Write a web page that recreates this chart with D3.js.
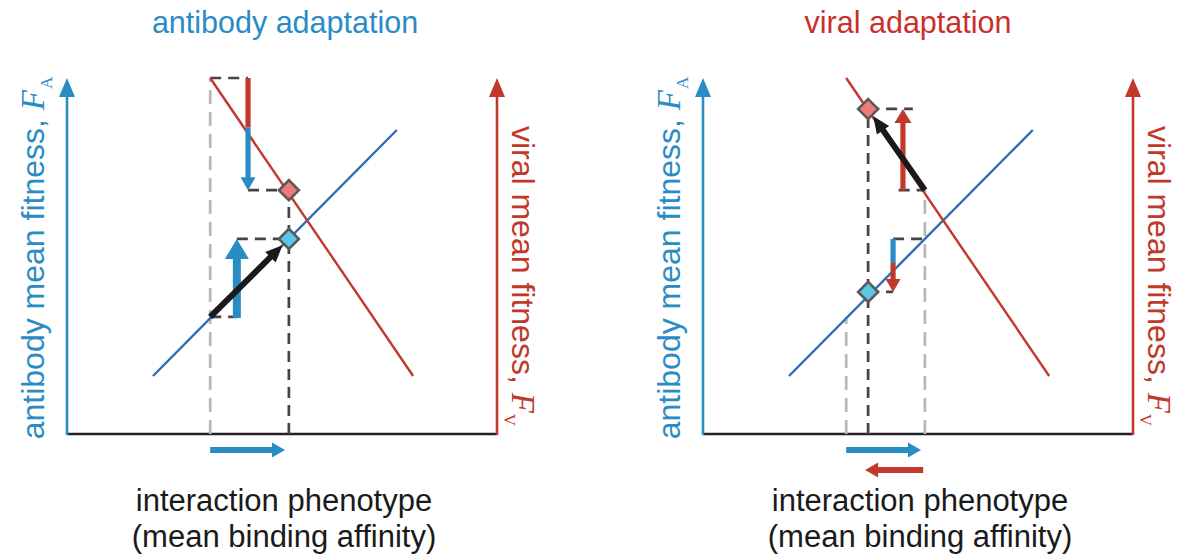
<!DOCTYPE html>
<html>
<head>
<meta charset="utf-8">
<script src="https://cdn.jsdelivr.net/npm/d3@7"></script>
<style>
  html, body { margin: 0; padding: 0; background: #fff; }
  svg { display: block; }
  text { font-family: "Liberation Sans", Arial, Helvetica, sans-serif; }
</style>
</head>
<body>
<svg id="chart" width="1186" height="558"></svg>
<script>
// Fitness landscapes over the interaction phenotype (arbitrary units, 0–10)
const antibodyFitnessLine = [[2.0, 1.63], [7.67, 8.54]];   // F_A rises with affinity
const viralFitnessLine    = [[3.33, 10.0], [8.05, 1.63]];  // F_V falls with affinity

// Phenotype states: start, after antibody step, after viral step
const phenotypeSteps = [3.33, 5.16, 3.84];
// Antibody fitness at each state
const antibodyFitness = [3.29, 5.48, 3.99];
// Viral fitness at each state
const viralFitness = [10.0, 6.85, 9.13];

// Positions of the vertical fitness-change arrows
const fitnessArrowX = { antibodyGain: 3.95, viralLossLeft: 4.21, viralGain: 4.65, antibodyLoss: 4.42 };
// Where each two-coloured arrow switches colour
const colourSwitch = { left: 8.62, right: 4.80 };

// Phenotype shift arrows under the axis [from, to]
const antibodyShift = [3.33, 5.07];
const viralShift = [5.12, 3.77];

const titles = ["antibody adaptation", "viral adaptation"];
const xLabelLines = ["interaction phenotype", "(mean binding affinity)"];
const yLabelLeft = ["antibody mean fitness, ", "F", "A"];
const yLabelRight = ["viral mean fitness, ", "F", "V"];

const BLUE = "#2a8cc4", BLUE_LINE = "#2d6db5", RED = "#c0392b", RED_TITLE = "#c9302c";
const DIAMOND_RED = "#ef7a7c", DIAMOND_BLUE = "#5cc8e8";
const DARK_DASH = "#444", LIGHT_DASH = "#b8b8b8";

const svg = d3.select("#chart");

const x = d3.scaleLinear().domain([0, 10]).range([0, 430]);
const y = d3.scaleLinear().domain([0, 10]).range([434, 78]);

// Filled arrow polygon from (x1,y1) to (x2,y2) in pixels
function arrowShape(x1, y1, x2, y2, shaftW, headW, headL) {
  const dx = x2 - x1, dy = y2 - y1, len = Math.hypot(dx, dy);
  const ux = dx / len, uy = dy / len, nx = -uy, ny = ux;
  const bx = x2 - ux * headL, by = y2 - uy * headL;
  const p = [
    [x1 + nx * shaftW / 2, y1 + ny * shaftW / 2],
    [bx + nx * shaftW / 2, by + ny * shaftW / 2],
    [bx + nx * headW / 2, by + ny * headW / 2],
    [x2, y2],
    [bx - nx * headW / 2, by - ny * headW / 2],
    [bx - nx * shaftW / 2, by - ny * shaftW / 2],
    [x1 - nx * shaftW / 2, y1 - ny * shaftW / 2]
  ];
  return "M" + p.map(d => d.join(",")).join("L") + "Z";
}

function dashed(g, x1, y1, x2, y2, dark) {
  g.append("line")
    .attr("x1", x(x1)).attr("y1", y(y1)).attr("x2", x(x2)).attr("y2", y(y2))
    .attr("stroke", dark ? DARK_DASH : LIGHT_DASH)
    .attr("stroke-width", 2.7)
    .attr("stroke-dasharray", dark ? "11,7" : "14,8");
}

function diamond(g, px, py, fill) {
  g.append("path")
    .attr("d", d3.symbol(d3.symbolSquare, 200)())
    .attr("transform", `translate(${x(px)},${y(py)}) rotate(45)`)
    .attr("fill", fill).attr("stroke", "#5a5a5a").attr("stroke-width", 2.6);
}

// Arrow whose tip stops short of a target by `gap` pixels
function blackArrow(g, from, to, gap) {
  const x1 = x(from[0]), y1 = y(from[1]), tx = x(to[0]), ty = y(to[1]);
  const len = Math.hypot(tx - x1, ty - y1);
  const x2 = tx - (tx - x1) / len * gap, y2 = ty - (ty - y1) / len * gap;
  g.append("path").attr("d", arrowShape(x1, y1, x2, y2, 6, 15, 17)).attr("fill", "#1a1a1a");
}

function fitnessLabel(g, parts, transform, colour) {
  const t = g.append("text").attr("transform", transform)
    .attr("text-anchor", "middle").attr("font-size", 32).attr("fill", colour);
  t.append("tspan").text(parts[0]);
  t.append("tspan").attr("font-family", "Liberation Serif, serif").attr("font-style", "italic").attr("font-size", 33).text(parts[1]);
  t.append("tspan").attr("font-family", "Liberation Serif, serif").attr("font-size", 17).attr("dx", 1).attr("dy", 8).text(parts[2]);
}

function axes(g, idx) {
  // phenotype axis
  g.append("line").attr("x1", x(0)).attr("x2", x(10)).attr("y1", y(0)).attr("y2", y(0))
    .attr("stroke", "#222").attr("stroke-width", 2.6);
  // antibody fitness axis
  g.append("path").attr("d", arrowShape(x(0), y(0) + 1, x(0), y(10), 2.6, 16, 19)).attr("fill", BLUE);
  // viral fitness axis
  g.append("path").attr("d", arrowShape(x(10), y(0) + 1, x(10), y(10), 2.6, 16, 19)).attr("fill", RED);

  // title
  g.append("text").attr("x", idx === 0 ? 218 : 205).attr("y", 33)
    .attr("text-anchor", "middle").attr("font-size", 30.5)
    .attr("fill", idx === 0 ? BLUE : RED_TITLE).text(titles[idx]);

  // phenotype label
  xLabelLines.forEach((t, i) => {
    g.append("text").attr("x", 217).attr("y", 511 + i * 36)
      .attr("text-anchor", "middle").attr("font-size", 31).attr("fill", "#1a1a1a").text(t);
  });

  // fitness labels: antibody reads upward on the left, virus reads downward on the right
  fitnessLabel(g, yLabelLeft, `translate(-23,258) rotate(-90)`, BLUE);
  fitnessLabel(g, yLabelRight, `translate(${x(10) + 15},276) rotate(90)`, RED);
}

function landscapes(g) {
  const line = d3.line().x(d => x(d[0])).y(d => y(d[1]));
  g.append("path").attr("d", line(antibodyFitnessLine)).attr("stroke", BLUE_LINE).attr("stroke-width", 2.4).attr("fill", "none");
  g.append("path").attr("d", line(viralFitnessLine)).attr("stroke", RED).attr("stroke-width", 2.4).attr("fill", "none");
}

// ---------- antibody adaptation panel ----------
const left = svg.append("g").attr("transform", "translate(67,0)");
axes(left, 0);
{
  const [p0, p1] = phenotypeSteps;
  const g = left;
  dashed(g, p0, 0, p0, viralFitness[0], false);
  dashed(g, p0, viralFitness[0], fitnessArrowX.viralLossLeft, viralFitness[0], true);
  dashed(g, fitnessArrowX.viralLossLeft, viralFitness[1], p1, viralFitness[1], true);
  dashed(g, p0, antibodyFitness[0], fitnessArrowX.antibodyGain, antibodyFitness[0], true);
  dashed(g, fitnessArrowX.antibodyGain, antibodyFitness[1], p1, antibodyFitness[1], true);
  dashed(g, p1, 0, p1, viralFitness[1], true);
  landscapes(g);

  // viral fitness drop: red shaft, blue head
  const ax = x(fitnessArrowX.viralLossLeft);
  g.append("rect").attr("x", ax - 2.6).attr("width", 5.2)
    .attr("y", y(viralFitness[0])).attr("height", y(colourSwitch.left) - y(viralFitness[0])).attr("fill", RED);
  g.append("path").attr("d", arrowShape(ax, y(colourSwitch.left), ax, y(viralFitness[1]), 5.2, 15, 13)).attr("fill", BLUE);

  // antibody fitness gain
  const bx = x(fitnessArrowX.antibodyGain);
  g.append("path").attr("d", arrowShape(bx, y(antibodyFitness[0]) + 1, bx, y(antibodyFitness[1]), 8, 24, 20)).attr("fill", BLUE);

  blackArrow(g, [p0, antibodyFitness[0]], [p1, antibodyFitness[1]], 9);
  diamond(g, p1, viralFitness[1], DIAMOND_RED);
  diamond(g, p1, antibodyFitness[1], DIAMOND_BLUE);

  g.append("path").attr("d", arrowShape(x(antibodyShift[0]), 450, x(antibodyShift[1]), 450, 6, 15, 13)).attr("fill", BLUE);
}

// ---------- viral adaptation panel ----------
const right = svg.append("g").attr("transform", "translate(703,0)");
axes(right, 1);
{
  const [p0, p1, p2] = phenotypeSteps;
  const g = right;
  dashed(g, p0, 0, p0, antibodyFitness[0], false);
  dashed(g, p1, 0, p1, viralFitness[1], false);
  dashed(g, p2, 0, p2, viralFitness[2], true);
  dashed(g, fitnessArrowX.viralGain - 0.1, viralFitness[1], p1, viralFitness[1], true);
  dashed(g, p2, viralFitness[2], fitnessArrowX.viralGain + 0.23, viralFitness[2], true);
  dashed(g, fitnessArrowX.antibodyLoss, antibodyFitness[1], p1, antibodyFitness[1], true);
  dashed(g, p2, antibodyFitness[2], fitnessArrowX.antibodyLoss, antibodyFitness[2], true);
  landscapes(g);

  // viral fitness gain
  const rx = x(fitnessArrowX.viralGain);
  g.append("path").attr("d", arrowShape(rx, y(viralFitness[1]), rx, y(viralFitness[2]), 5.2, 17, 14)).attr("fill", RED);

  // antibody fitness drop: blue shaft, red head
  const ax = x(fitnessArrowX.antibodyLoss);
  g.append("rect").attr("x", ax - 2.6).attr("width", 5.2)
    .attr("y", y(antibodyFitness[1])).attr("height", y(colourSwitch.right) - y(antibodyFitness[1])).attr("fill", BLUE);
  g.append("path").attr("d", arrowShape(ax, y(colourSwitch.right), ax, y(antibodyFitness[2]), 5.2, 15, 13)).attr("fill", RED);

  blackArrow(g, [p1, viralFitness[1]], [p2, viralFitness[2]], 9);
  diamond(g, p2, viralFitness[2], DIAMOND_RED);
  diamond(g, p2, antibodyFitness[2], DIAMOND_BLUE);

  g.append("path").attr("d", arrowShape(x(antibodyShift[0]), 450, x(antibodyShift[1]), 450, 6, 15, 13)).attr("fill", BLUE);
  g.append("path").attr("d", arrowShape(x(viralShift[0]), 470, x(viralShift[1]), 470, 6, 15, 13)).attr("fill", RED);
}
</script>
</body>
</html>
